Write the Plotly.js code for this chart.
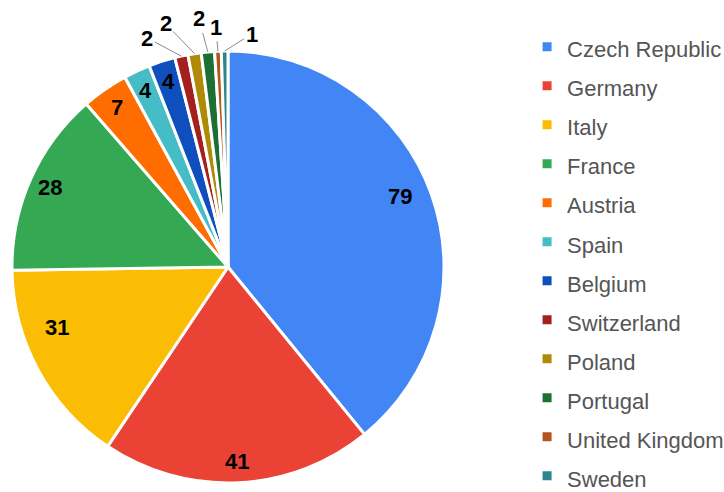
<!DOCTYPE html>
<html>
<head>
<meta charset="utf-8">
<script src="https://cdn.plot.ly/plotly-3.0.1.min.js"></script>
<style>html,body{margin:0;padding:0;background:#fff;}#chart{width:724px;height:492px;}</style>
</head>
<body>
<div id="chart"></div>
<script>
var countries = ["Czech Republic","Germany","Italy","France","Austria","Spain","Belgium","Switzerland","Poland","Portugal","United Kingdom","Sweden"];
var counts = [79,41,31,28,7,4,4,2,2,2,1,1];
var colors = ["#4285F4","#EA4335","#FBBC04","#34A853","#FF6D01","#46BDC6","#0F4EBD","#A61F1F","#AE8A07","#1D7033","#B4561C","#2B878C"];

var W = 724, H = 492;
// pie placement (pixels)
var cx = 228, cy = 267, R = 216;
var dom = {x: [(cx - R) / W, (cx + R) / W], y: [1 - (cy + R) / H, 1 - (cy - R) / H]};

// leader-line offsets for the small slices' outside labels (pixels)
var outsideOffsets = {7: [-34, -18], 8: [-29, -30], 9: [-9, -33], 10: [-2, -24], 11: [27, -17]};
// small text nudges for some inside labels (pixels)
var insideNudge = {0: [-11, -5], 2: [0, -32]};

var legendLabels = countries.map(function(c){ return '<span style="font-size:22px">' + c + '</span>'; });

var trace = {
  type: 'pie',
  labels: legendLabels,
  values: counts,
  sort: false,
  direction: 'clockwise',
  rotation: 0,
  textinfo: 'none',
  marker: {colors: colors, line: {color: '#ffffff', width: 3}},
  domain: dom,
  hoverinfo: 'label+value'
};

var total = counts.reduce(function(a, b){ return a + b; }, 0);
var annotations = [];
var cum = 0;
var labelFont = {family: 'Liberation Sans, Arial, sans-serif', size: 22, color: '#000', weight: 'bold'};
counts.forEach(function(v, i){
  var mid = (cum + v / 2) / total * 2 * Math.PI;
  cum += v;
  var sx = Math.sin(mid), sy = Math.cos(mid);
  if (outsideOffsets[i]) {
    var ex = cx + R * sx, ey = cy - R * sy;
    annotations.push({
      xref: 'paper', yref: 'paper', x: ex / W, y: 1 - ey / H,
      text: String(v), font: labelFont,
      showarrow: true, arrowhead: 0, arrowwidth: 1, arrowcolor: '#8a8a8a',
      ax: outsideOffsets[i][0], ay: outsideOffsets[i][1], standoff: 0, startstandoff: 0
    });
  } else {
    var rr = 0.9 * R;
    var nd = insideNudge[i] || [0, 0];
    var px = cx + rr * sx + nd[0], py = cy - rr * sy + nd[1];
    annotations.push({
      xref: 'paper', yref: 'paper', x: px / W, y: 1 - py / H,
      xanchor: 'center', yanchor: 'middle',
      text: String(v), font: labelFont, showarrow: false
    });
  }
});

var layout = {
  width: W, height: H,
  margin: {l: 0, r: 0, t: 0, b: 0, autoexpand: false},
  paper_bgcolor: '#fff',
  showlegend: true,
  annotations: annotations,
  legend: {
    x: 0.728, xanchor: 'left', y: 0.955, yanchor: 'top',
    font: {family: 'Liberation Sans, Arial, sans-serif', size: 27.7, color: '#555'},
    bgcolor: 'rgba(0,0,0,0)'
  }
};

Plotly.newPlot('chart', [trace], layout, {displayModeBar: false, staticPlot: true});
</script>
</body>
</html>
